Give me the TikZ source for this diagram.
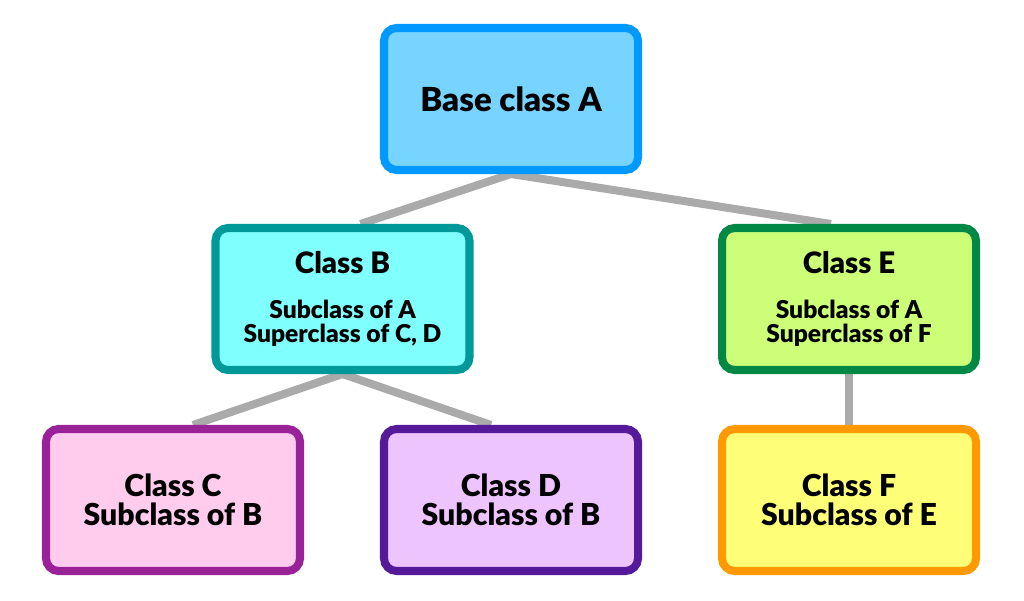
\documentclass[tikz,border=0pt]{standalone}
\usepackage{fontspec}
\setmainfont{Lato}[BoldFont={Lato Black}]
\usetikzlibrary{backgrounds}
\definecolor{bordA}{RGB}{0,153,255}
\definecolor{fillA}{RGB}{119,212,255}
\definecolor{bordB}{RGB}{0,153,153}
\definecolor{fillB}{RGB}{128,255,255}
\definecolor{bordE}{RGB}{0,136,68}
\definecolor{fillE}{RGB}{204,255,119}
\definecolor{bordC}{RGB}{153,34,153}
\definecolor{fillC}{RGB}{255,204,238}
\definecolor{bordD}{RGB}{85,26,153}
\definecolor{fillD}{RGB}{238,196,255}
\definecolor{bordF}{RGB}{255,153,0}
\definecolor{fillF}{RGB}{255,255,119}
\definecolor{linkgray}{RGB}{170,170,170}
\tikzset{
  classbox/.style={draw, line width=5.7pt, rounded corners=9pt, minimum width=6.35cm, minimum height=3.55cm, align=center, inner sep=0pt, font=\bfseries\fontsize{21.5}{20.5}\selectfont},
  midbox/.style={classbox, font=\bfseries\fontsize{17.5}{17.2}\selectfont},
  link/.style={draw=linkgray, line width=5.7pt}
}
\begin{document}
\begin{tikzpicture}
\useasboundingbox (0,0) rectangle (25.6,15);
\node[classbox, draw=bordA, fill=fillA, font=\bfseries\fontsize{23.5}{24}\selectfont] (A) at (12.775,12.525) {Base class A};
\node[midbox, draw=bordB, fill=fillB] (B) at (8.5625,7.525) {{\fontsize{21}{20}\selectfont Class B}\\[15.3pt]Subclass of A\\Superclass of C, D};
\node[midbox, draw=bordE, fill=fillE] (E) at (21.225,7.525) {{\fontsize{21}{20}\selectfont Class E}\\[15.3pt]Subclass of A\\Superclass of F};
\node[classbox, draw=bordC, fill=fillC] (C) at (4.325,2.5) {Class C\\Subclass of B};
\node[classbox, draw=bordD, fill=fillD] (D) at (12.775,2.5) {Class D\\Subclass of B};
\node[classbox, draw=bordF, fill=fillF] (F) at (21.225,2.5) {Class F\\Subclass of E};
\begin{scope}[on background layer]
\draw[link] (A.south) -- ([xshift=0.45cm]B.north);
\draw[link] (A.south) -- ([xshift=-0.45cm]E.north);
\draw[link] (B.south) -- ([xshift=0.5cm]C.north);
\draw[link] (B.south) -- ([xshift=-0.5cm]D.north);
\draw[link] (E.south) -- (F.north);
\end{scope}
\end{tikzpicture}
\end{document}
